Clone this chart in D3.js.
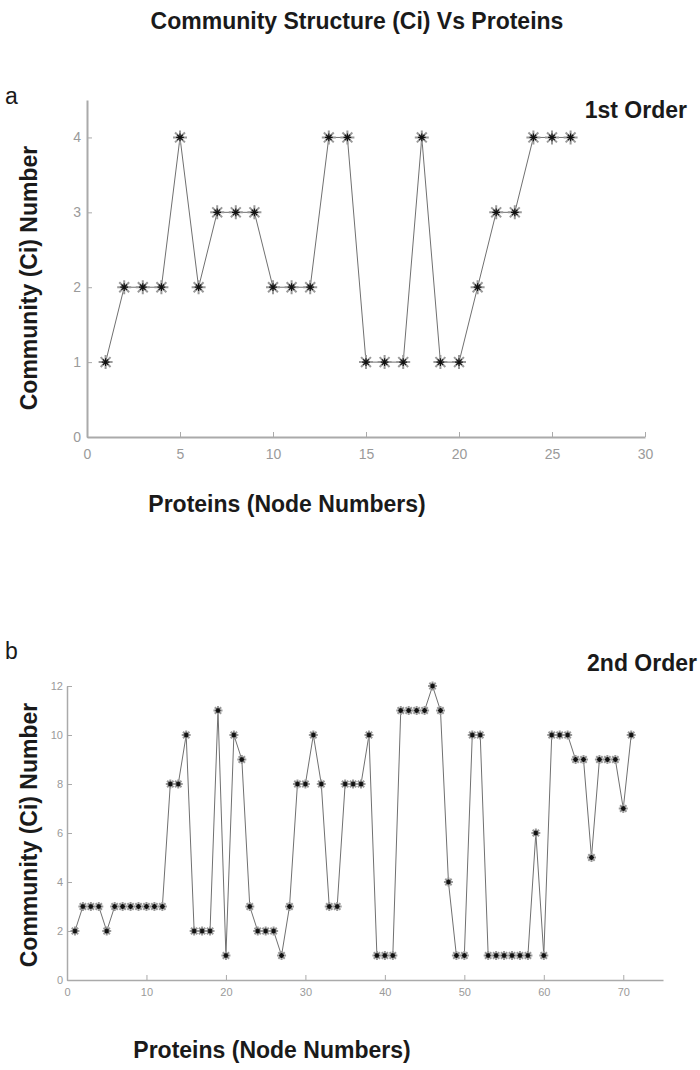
<!DOCTYPE html>
<html>
<head>
<meta charset="utf-8">
<script src="https://cdn.jsdelivr.net/npm/d3@7"></script>
<style>
  body { margin: 0; background: #fff; }
  svg { display: block; font-family: "Liberation Sans", Arial, sans-serif; }
  .tick text { fill: #9a9a9a; }
  .domain, .tick line { stroke: #aaa; }
  .label { font-weight: bold; fill: #1a1a1a; }
</style>
</head>
<body>
<div id="wrapper"></div>
<script>
// 1. Data
const firstOrder = [1, 2, 2, 2, 4, 2, 3, 3, 3, 2, 2, 2, 4, 4, 1, 1, 1, 4, 1, 1, 2, 3, 3, 4, 4, 4]
const secondOrder = [
  2, 3, 3, 3, 2, 3, 3, 3, 3, 3, 3, 3, 8, 8, 10, 2, 2, 2, 11, 1,
  10, 9, 3, 2, 2, 2, 1, 3, 8, 8, 10, 8, 3, 3, 8, 8, 8, 10, 1, 1,
  1, 11, 11, 11, 11, 12, 11, 4, 1, 1, 10, 10, 1, 1, 1, 1, 1, 1, 6, 1,
  10, 10, 10, 9, 9, 5, 9, 9, 9, 7, 10
]
const xTicksA = [0, 5, 10, 15, 20, 25, 30]
const yTicksA = [0, 1, 2, 3, 4]
const xTicksB = [0, 10, 20, 30, 40, 50, 60, 70]
const yTicksB = [0, 2, 4, 6, 8, 10, 12]

const xAccessor = (d, i) => i + 1
const yAccessor = d => d

// 2. Dimensions
const width = 700
const height = 1070
const labelSize = "23px"

const svg = d3.select("#wrapper")
  .append("svg")
    .attr("width", width)
    .attr("height", height)

svg.append("text")
    .attr("class", "label")
    .attr("x", 357)
    .attr("y", 29)
    .attr("text-anchor", "middle")
    .style("font-size", labelSize)
    .text("Community Structure (Ci) Vs Proteins")

// asterisk marker path
const asterisk = r => {
  const k = r * Math.SQRT1_2
  return `M${-r},0L${r},0M0,${-r}L0,${r}M${-k},${-k}L${k},${k}M${-k},${k}L${k},${-k}`
}

function drawPanel(cfg) {
  const xScale = d3.scaleLinear()
    .domain(cfg.xDomain)
    .range([cfg.left, cfg.right])
  const yScale = d3.scaleLinear()
    .domain(cfg.yDomain)
    .range([cfg.bottom, cfg.top])

  const g = svg.append("g")

  // axes
  g.append("g")
      .attr("transform", `translate(0,${cfg.bottom})`)
      .call(d3.axisBottom(xScale)
        .tickValues(cfg.xTicks)
        .tickFormat(d3.format("d"))
        .tickSizeInner(-cfg.tick)
        .tickSizeOuter(0)
        .tickPadding(cfg.xPad))
  g.append("g")
      .attr("transform", `translate(${cfg.left},0)`)
      .call(d3.axisLeft(yScale)
        .tickValues(cfg.yTicks)
        .tickFormat(d3.format("d"))
        .tickSizeInner(-cfg.tick)
        .tickSizeOuter(0)
        .tickPadding(cfg.yPad))
  g.selectAll(".domain").attr("stroke-width", cfg.axisWidth)
  g.selectAll(".tick text").style("font-size", cfg.tickFont + "px")

  // line
  const line = d3.line()
    .x((d, i) => xScale(xAccessor(d, i)))
    .y(d => yScale(yAccessor(d)))
  g.append("path")
      .datum(cfg.data)
      .attr("fill", "none")
      .attr("stroke", "#707070")
      .attr("stroke-width", 1)
      .attr("d", line)

  // markers
  const marks = g.selectAll(".mark")
    .data(cfg.data)
    .join("g")
      .attr("class", "mark")
      .attr("transform", (d, i) => `translate(${xScale(xAccessor(d, i))},${yScale(yAccessor(d))})`)
  marks.append("path")
      .attr("d", asterisk(cfg.marker))
      .attr("stroke", "#999")
      .attr("stroke-width", 2)
  marks.append("path")
      .attr("d", asterisk(cfg.marker * 0.55))
      .attr("stroke", "#111")
      .attr("stroke-width", 1.2)

  // labels
  svg.append("text")
      .attr("class", "label")
      .attr("x", 5)
      .attr("y", cfg.letterY)
      .style("font-size", labelSize)
      .style("font-weight", "normal")
      .text(cfg.letter)
  svg.append("text")
      .attr("class", "label")
      .attr("x", cfg.orderX)
      .attr("y", cfg.orderY)
      .attr("text-anchor", "end")
      .style("font-size", labelSize)
      .text(cfg.order)
  svg.append("text")
      .attr("class", "label")
      .attr("transform", `translate(37,${cfg.yLabelY}) rotate(-90)`)
      .attr("text-anchor", "middle")
      .style("font-size", labelSize)
      .text("Community (Ci) Number")
  svg.append("text")
      .attr("class", "label")
      .attr("x", cfg.xLabelX)
      .attr("y", cfg.xLabelY)
      .attr("text-anchor", "middle")
      .style("font-size", labelSize)
      .text("Proteins (Node Numbers)")
}

drawPanel({
  data: firstOrder,
  xDomain: [0, 30], yDomain: [0, 4.5],
  left: 87, right: 645, top: 100, bottom: 437,
  xTicks: xTicksA, yTicks: yTicksA,
  tick: 5, xPad: 12, yPad: 6, axisWidth: 2, tickFont: 14,
  marker: 7,
  letter: "a", letterY: 104,
  order: "1st Order", orderX: 687, orderY: 118,
  yLabelY: 278, xLabelX: 287, xLabelY: 512
})

drawPanel({
  data: secondOrder,
  xDomain: [0, 75], yDomain: [0, 12],
  left: 67, right: 663, top: 686, bottom: 980,
  xTicks: xTicksB, yTicks: yTicksB,
  tick: 5, xPad: 8, yPad: 4, axisWidth: 1.5, tickFont: 11,
  marker: 4.5,
  letter: "b", letterY: 659,
  order: "2nd Order", orderX: 697, orderY: 671,
  yLabelY: 835, xLabelX: 272, xLabelY: 1058
})
</script>
</body>
</html>
